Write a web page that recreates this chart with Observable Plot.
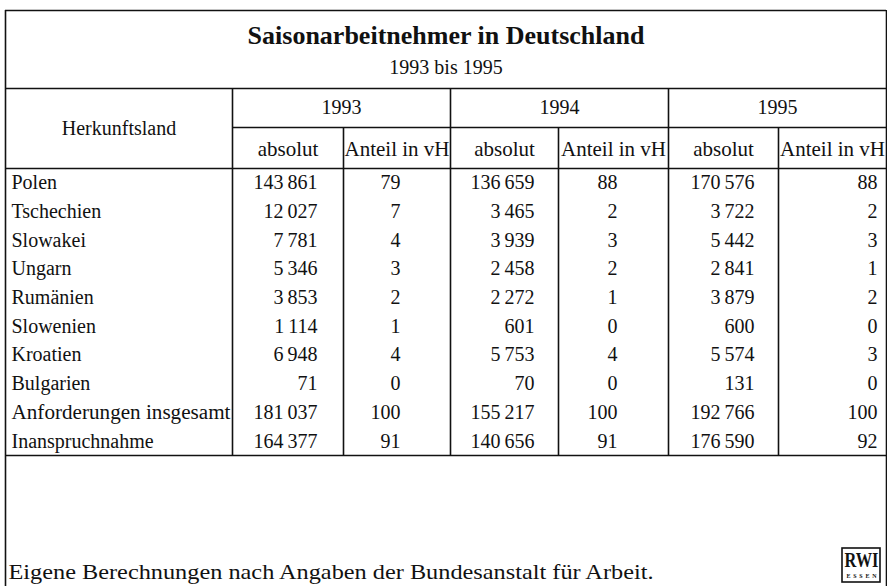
<!DOCTYPE html>
<html><head><meta charset="utf-8">
<script src="https://cdn.jsdelivr.net/npm/d3@7"></script>
<script src="https://cdn.jsdelivr.net/npm/@observablehq/plot@0.6"></script>
<style>html,body{margin:0;padding:0;background:#fff} svg{display:block}</style>
</head><body><div id="chart"></div>
<script>
// ---- data ----
const title = "Saisonarbeitnehmer in Deutschland";
const subtitle = "1993 bis 1995";
const stubHeader = "Herkunftsland";
const years = ["1993", "1994", "1995"];
const subHeaders = ["absolut", "Anteil in vH"];
const countries = ["Polen", "Tschechien", "Slowakei", "Ungarn", "Rumänien", "Slowenien", "Kroatien", "Bulgarien", "Anforderungen insgesamt", "Inanspruchnahme"];
const abs1993 = [143861, 12027, 7781, 5346, 3853, 1114, 6948, 71, 181037, 164377];
const pct1993 = [79, 7, 4, 3, 2, 1, 4, 0, 100, 91];
const abs1994 = [136659, 3465, 3939, 2458, 2272, 601, 5753, 70, 155217, 140656];
const pct1994 = [88, 2, 3, 2, 1, 0, 4, 0, 100, 91];
const abs1995 = [170576, 3722, 5442, 2841, 3879, 600, 5574, 131, 192766, 176590];
const pct1995 = [88, 2, 3, 1, 2, 0, 3, 0, 100, 92];
const source = "Eigene Berechnungen nach Angaben der Bundesanstalt für Arbeit.";
const logoText = "RWI";
const logoSub = "ESSEN";

// ---- layout ----
const W = 887, H = 586;
const L = {
  left: 5, right: 886, top: 10, titleY: 35, subY: 67, headTop: 88,
  yearBottom: 127, subBottom: 168, bodyBottom: 455, footerY: 572,
  edges: [5, 232, 343, 450, 558, 668, 778, 886],
  absRight: [317, 534, 754], pctRight: [400, 617, 877], nameX: 11
};
const rowH = (L.bodyBottom - L.subBottom) / countries.length;
const rowY = i => L.subBottom + rowH * (i + 0.5);

const fmt = d3.formatLocale({decimal: ",", thousands: "\u2009", grouping: [3], currency: ["", ""]}).format(",d");
const absCols = [abs1993, abs1994, abs1995];
const pctCols = [pct1993, pct1994, pct1995];

const cells = [];
countries.forEach((c, i) => {
  cells.push({t: c, x: L.nameX, y: rowY(i), a: "start"});
  years.forEach((yr, j) => {
    cells.push({t: fmt(absCols[j][i]), x: L.absRight[j], y: rowY(i), a: "end"});
    cells.push({t: String(pctCols[j][i]), x: L.pctRight[j], y: rowY(i), a: "end"});
  });
});

const yearCells = [], subCells = [];
years.forEach((yr, j) => {
  const x0 = L.edges[1 + 2 * j], x1 = L.edges[2 + 2 * j], x2 = L.edges[3 + 2 * j];
  yearCells.push({t: yr, x: (x0 + x2) / 2, y: (L.headTop + L.yearBottom) / 2});
  subCells.push({t: subHeaders[0], x: (x0 + x1) / 2, y: (L.yearBottom + L.subBottom) / 2 + 1});
  subCells.push({t: subHeaders[1], x: (x1 + x2) / 2, y: (L.yearBottom + L.subBottom) / 2 + 1});
});
yearCells.push({t: stubHeader, x: (L.edges[0] + L.edges[1]) / 2, y: (L.headTop + L.subBottom) / 2});

const hLines = [
  {y: L.top, x1: L.left, x2: L.right},
  {y: L.headTop, x1: L.left, x2: L.right},
  {y: L.yearBottom, x1: L.edges[1], x2: L.right},
  {y: L.subBottom, x1: L.left, x2: L.right},
  {y: L.bodyBottom, x1: L.left, x2: L.right}
];
const vLines = [
  {x: L.left, y1: L.top, y2: H},
  {x: L.right, y1: L.top, y2: H},
  {x: L.edges[1], y1: L.headTop, y2: L.bodyBottom},
  {x: L.edges[3], y1: L.headTop, y2: L.bodyBottom},
  {x: L.edges[5], y1: L.headTop, y2: L.bodyBottom},
  {x: L.edges[2], y1: L.yearBottom, y2: L.bodyBottom},
  {x: L.edges[4], y1: L.yearBottom, y2: L.bodyBottom},
  {x: L.edges[6], y1: L.yearBottom, y2: L.bodyBottom}
];
const logo = {x1: 842, x2: 880, y1: 548, y2: 582};

const font = "Liberation Serif";
const ink = "#111";
const chart = Plot.plot({
  width: W, height: H, margin: 0,
  x: {type: "identity"}, y: {type: "identity"},
  style: {fontFamily: font, background: "#fff", color: ink},
  marks: [
    Plot.ruleY(hLines, {y: "y", x1: "x1", x2: "x2", stroke: ink, strokeWidth: 1.6}),
    Plot.ruleX(vLines, {x: "x", y1: "y1", y2: "y2", stroke: ink, strokeWidth: 1.6}),
    Plot.text([title], {x: (L.left + L.right) / 2, y: L.titleY, text: d => d, fontSize: 26, fontWeight: "bold", fill: ink}),
    Plot.text([subtitle], {x: (L.left + L.right) / 2, y: L.subY, text: d => d, fontSize: 20, fill: ink}),
    Plot.text(yearCells, {x: "x", y: "y", text: "t", fontSize: 20, fill: ink}),
    Plot.text(subCells, {x: "x", y: "y", text: "t", fontSize: 21, fill: ink}),
    Plot.text(cells, {x: "x", y: "y", text: "t", textAnchor: "start", fontSize: 20, fill: ink, filter: d => d.a === "start"}),
    Plot.text(cells, {x: "x", y: "y", text: "t", textAnchor: "end", fontSize: 20, fill: ink, filter: d => d.a === "end"}),
    Plot.text([source], {x: 8, y: L.footerY, text: d => d, textAnchor: "start", fontSize: 21, fill: ink}),
    Plot.rect([logo], {x1: "x1", x2: "x2", y1: "y1", y2: "y2", fill: "none", stroke: ink, strokeWidth: 1.6}),
    Plot.text([logoText], {x: (logo.x1 + logo.x2) / 2, y: logo.y1 + 12, text: d => d, fontSize: 20, fontWeight: "bold", fill: ink}),
    Plot.text([logoSub], {x: (logo.x1 + logo.x2) / 2, y: logo.y2 - 6, text: d => d, fontSize: 6, fontWeight: "bold", fill: ink})
  ]
});
// fit a few texts to the widths they take in the reference
const fits = new Map([
  [countries[8], [219, "spacingAndGlyphs"]],
  [source, [645, "spacingAndGlyphs"]],
  [logoText, [34, "spacingAndGlyphs"]],
  [logoSub, [30, "spacing"]]
]);
chart.querySelectorAll("text").forEach(t => {
  const f = fits.get(t.textContent);
  if (f) { t.setAttribute("textLength", f[0]); t.setAttribute("lengthAdjust", f[1]); }
});
document.getElementById("chart").appendChild(chart);
</script>
</body></html>
